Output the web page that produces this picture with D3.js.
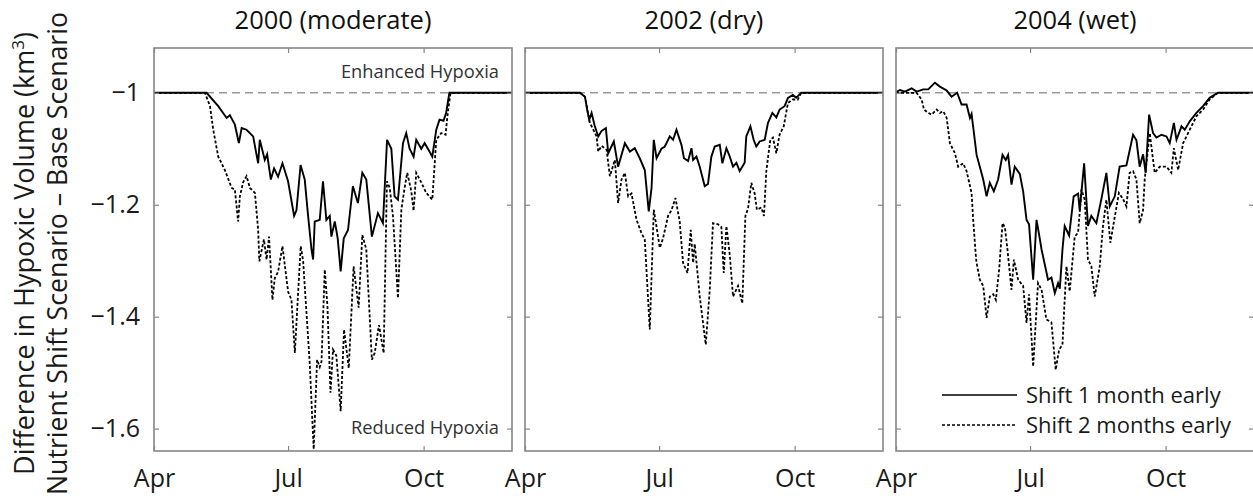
<!DOCTYPE html>
<html>
<head>
<meta charset="utf-8">
<script src="https://cdn.jsdelivr.net/npm/d3@7/dist/d3.min.js"></script>
<style>
  body { margin: 0; background: #fff; }
  text { font-family: "Open Sans", sans-serif; }
</style>
</head>
<body>
<script>
// Data: [days after 1 April, difference in hypoxic volume]
var y2000_1mo = [[0,-1],[35.7,-1],[43.6,-1.024],[49.3,-1.045],[51.5,-1.040],[54.9,-1.057],[57.6,-1.09],[59.5,-1.063],[62.8,-1.066],[67.3,-1.078],[70.7,-1.126],[71.8,-1.084],[75.2,-1.12],[76.8,-1.11],[79.3,-1.155],[81.5,-1.135],[84.2,-1.15],[87.2,-1.126],[91.0,-1.158],[95.1,-1.22],[96.7,-1.21],[99.5,-1.129],[102.3,-1.155],[104.6,-1.22],[106.9,-1.28],[108.0,-1.298],[109.1,-1.23],[112.5,-1.227],[114.7,-1.158],[117.0,-1.227],[119.3,-1.22],[120.4,-1.257],[122.7,-1.23],[124.7,-1.26],[126.7,-1.319],[128.8,-1.26],[131.7,-1.245],[135.0,-1.167],[138.4,-1.197],[141.4,-1.143],[144.1,-1.155],[147.9,-1.257],[152.0,-1.215],[155.4,-1.233],[158.2,-1.084],[161.1,-1.10],[163.3,-1.185],[165.6,-1.191],[169.0,-1.09],[171.2,-1.072],[173.5,-1.10],[176.2,-1.114],[178.0,-1.084],[181.4,-1.10],[183.7,-1.09],[185.9,-1.10],[188.9,-1.114],[191.6,-1.066],[193.8,-1.048],[196.5,-1.05],[198.3,-1.036],[200.5,-1],[243,-1]];
var y2000_2mo = [[0,-1],[34.6,-1],[38.0,-1.024],[40.2,-1.066],[43.6,-1.114],[45.9,-1.126],[48.1,-1.138],[52.7,-1.17],[54.9,-1.173],[57.1,-1.23],[58.3,-1.185],[60.5,-1.16],[62.8,-1.149],[65.1,-1.17],[68.5,-1.179],[70.7,-1.245],[71.5,-1.301],[74.6,-1.262],[76.4,-1.298],[78.1,-1.257],[80.4,-1.37],[82.0,-1.331],[84.2,-1.32],[87.2,-1.274],[91.0,-1.355],[93.3,-1.37],[95.6,-1.465],[97.8,-1.358],[99.6,-1.274],[101.2,-1.30],[103.5,-1.393],[105.7,-1.483],[108.4,-1.637],[110.7,-1.477],[112.5,-1.49],[113.7,-1.48],[115.9,-1.316],[117.7,-1.38],[119.8,-1.536],[121.5,-1.459],[123.8,-1.47],[126.7,-1.569],[129.0,-1.423],[132.2,-1.492],[135.5,-1.31],[138.9,-1.384],[141.4,-1.254],[144.1,-1.28],[147.9,-1.477],[149.8,-1.465],[152.7,-1.415],[155.9,-1.465],[158.1,-1.158],[160.0,-1.17],[162.2,-1.22],[165.6,-1.367],[167.9,-1.209],[170.1,-1.17],[171.9,-1.143],[174.6,-1.175],[176.2,-1.211],[178.0,-1.143],[181.4,-1.16],[184.8,-1.179],[188.9,-1.191],[191.6,-1.084],[195.0,-1.072],[197.9,-1.075],[199.4,-1.036],[201.3,-1],[243,-1]];

var y2002_1mo = [[0,-1],[37.3,-1],[40.7,-1.007],[42.2,-1.03],[43.6,-1.048],[45.2,-1.036],[47.4,-1.06],[49.7,-1.078],[52.0,-1.068],[54.9,-1.063],[56.5,-1.108],[60.3,-1.087],[63.2,-1.132],[67.8,-1.09],[71.2,-1.105],[74.5,-1.099],[77.9,-1.117],[81.3,-1.138],[84.0,-1.212],[85.9,-1.17],[87.4,-1.084],[89.3,-1.117],[92.6,-1.10],[94.9,-1.096],[98.3,-1.078],[100.5,-1.084],[102.8,-1.066],[106.2,-1.093],[107.9,-1.117],[110.7,-1.122],[113.0,-1.099],[114.1,-1.12],[116.4,-1.114],[118.6,-1.132],[122.0,-1.167],[124.2,-1.163],[126.5,-1.114],[128.8,-1.096],[132.2,-1.093],[134.0,-1.126],[136.7,-1.099],[139.0,-1.114],[141.2,-1.132],[143.5,-1.125],[145.7,-1.14],[149.1,-1.125],[150.2,-1.078],[153.0,-1.06],[155.2,-1.084],[157.0,-1.096],[159.3,-1.087],[162.7,-1.084],[164.9,-1.054],[167.9,-1.036],[170.6,-1.044],[172.8,-1.03],[176.2,-1.024],[178.5,-1.009],[181.8,-1.004],[184.1,-1.009],[187.5,-1],[243,-1]];
var y2002_2mo = [[0,-1],[37.3,-1],[40.7,-1.007],[42.7,-1.036],[44.1,-1.054],[48.6,-1.078],[49.7,-1.105],[52.0,-1.095],[55.4,-1.102],[57.6,-1.149],[61.0,-1.12],[63.2,-1.197],[65.5,-1.155],[67.8,-1.143],[70.0,-1.185],[72.3,-1.18],[75.7,-1.227],[79.1,-1.251],[81.3,-1.262],[84.7,-1.423],[87.4,-1.209],[89.3,-1.24],[91.5,-1.277],[93.7,-1.26],[97.1,-1.22],[99.4,-1.21],[102.1,-1.188],[105.0,-1.23],[107.3,-1.304],[110.3,-1.322],[112.5,-1.245],[114.1,-1.304],[115.2,-1.27],[118.6,-1.364],[122.7,-1.45],[125.4,-1.352],[127.6,-1.233],[131.0,-1.235],[133.3,-1.24],[134.9,-1.322],[136.7,-1.238],[139.0,-1.29],[141.2,-1.364],[144.6,-1.345],[147.5,-1.376],[149.6,-1.22],[151.4,-1.207],[153.6,-1.161],[155.9,-1.18],[157.4,-1.209],[160.4,-1.205],[162.2,-1.22],[163.8,-1.14],[166.5,-1.084],[168.3,-1.08],[170.6,-1.108],[172.8,-1.075],[175.6,-1.06],[178.5,-1.018],[181.8,-1.012],[185.2,-1.012],[187.5,-1],[243,-1]];

var y2004_1mo = [[0,-1],[0.5,-0.998],[2.7,-0.995],[6.1,-0.998],[10.6,-0.992],[14.0,-0.998],[18.5,-0.994],[21.9,-0.994],[26.4,-0.982],[29.8,-0.989],[34.4,-0.996],[37.7,-1.007],[41.5,-1.0],[44.5,-1.021],[47.9,-1.021],[50.2,-1.045],[51.3,-1.038],[52.9,-1.072],[54.7,-1.111],[56.9,-1.132],[59.2,-1.155],[61.5,-1.185],[63.7,-1.161],[66.4,-1.176],[69.3,-1.155],[72.3,-1.111],[74.5,-1.12],[76.1,-1.111],[78.4,-1.164],[80.6,-1.132],[84.0,-1.145],[86.3,-1.176],[88.6,-1.227],[90.3,-1.235],[93.1,-1.334],[95.4,-1.227],[96.9,-1.25],[98.8,-1.28],[103.2,-1.334],[105.5,-1.33],[107.8,-1.358],[110.0,-1.34],[111.2,-1.35],[113.0,-1.28],[114.5,-1.238],[117.5,-1.255],[120.6,-1.185],[123.6,-1.18],[124.7,-1.21],[127.7,-1.126],[130.3,-1.238],[132.6,-1.22],[136.0,-1.233],[139.4,-1.19],[142.8,-1.143],[145.1,-1.203],[148.5,-1.185],[151.8,-1.132],[156.4,-1.13],[160.9,-1.075],[163.2,-1.085],[165.4,-1.132],[167.7,-1.11],[169.5,-1.143],[171.8,-1.039],[174.5,-1.072],[176.8,-1.08],[180.2,-1.075],[183.6,-1.078],[185.8,-1.09],[188.6,-1.054],[190.4,-1.084],[193.8,-1.06],[196.0,-1.066],[199.4,-1.051],[203.9,-1.036],[208.4,-1.024],[212.9,-1.009],[218.5,-1],[243,-1]];
var y2004_2mo = [[0,-1],[14.0,-1],[17.4,-1.012],[19.0,-1.03],[21.9,-1.036],[24.2,-1.039],[27.6,-1.03],[29.8,-1.036],[32.1,-1.033],[34.4,-1.045],[36.6,-1.09],[40.0,-1.108],[42.2,-1.132],[45.6,-1.126],[47.9,-1.14],[51.3,-1.179],[52.4,-1.227],[54.2,-1.292],[54.7,-1.304],[56.9,-1.334],[59.2,-1.345],[61.5,-1.402],[63.7,-1.364],[66.0,-1.36],[67.8,-1.37],[70.0,-1.316],[72.3,-1.233],[73.9,-1.24],[75.4,-1.274],[78.4,-1.352],[80.0,-1.298],[82.9,-1.334],[86.3,-1.345],[88.6,-1.411],[90.3,-1.36],[93.1,-1.489],[96.4,-1.34],[98.8,-1.352],[102.1,-1.405],[105.5,-1.41],[108.4,-1.495],[110.7,-1.459],[113.0,-1.45],[114.1,-1.39],[115.7,-1.31],[117.9,-1.355],[121.3,-1.257],[123.6,-1.25],[125.9,-1.173],[128.1,-1.191],[130.3,-1.298],[132.6,-1.31],[134.9,-1.364],[138.3,-1.31],[140.5,-1.238],[142.8,-1.191],[145.5,-1.268],[147.3,-1.24],[151.3,-1.179],[154.1,-1.19],[156.4,-1.203],[158.6,-1.143],[160.9,-1.14],[163.2,-1.155],[165.4,-1.233],[167.7,-1.21],[168.8,-1.155],[172.2,-1.072],[175.6,-1.143],[179.0,-1.132],[183.6,-1.132],[186.9,-1.143],[188.6,-1.099],[191.5,-1.138],[194.9,-1.09],[199.4,-1.066],[203.9,-1.042],[208.4,-1.03],[212.9,-1.012],[218.5,-1],[243,-1]];

var titles = ["2000 (moderate)", "2002 (dry)", "2004 (wet)"];
var oneMonth = [y2000_1mo, y2002_1mo, y2004_1mo];
var twoMonth = [y2000_2mo, y2002_2mo, y2004_2mo];
var yTicks = [-1, -1.2, -1.4, -1.6];
var monthLabels = ["Apr", "Jul", "Oct"];
var legendLabels = ["Shift 1 month early", "Shift 2 months early"];

// Chart Params
var svgWidth = 1253;
var svgHeight = 499;
var panelLefts = [154, 525, 896];
var panelWidth = 358;
var top0 = 48, bottom0 = 451;
var height = bottom0 - top0;

var start = new Date(2001, 3, 1);
var toDate = function(day) { return new Date(start.getTime() + day * 864e5); };
var tickDates = [new Date(2001, 3, 1), new Date(2001, 6, 1), new Date(2001, 9, 1)];

var frameColor = "#868686";

var svg = d3.select("body")
  .append("svg")
  .attr("width", svgWidth)
  .attr("height", svgHeight);

svg.append("rect").attr("width", svgWidth).attr("height", svgHeight).attr("fill", "#fff");

var xScale = d3.scaleTime()
  .domain([start, toDate(243)])
  .range([0, panelWidth]);

var yScale = d3.scaleLinear()
  .domain([-1.64, -0.92])
  .range([height, 0]);

var line = d3.line()
  .x(d => xScale(toDate(d[0])))
  .y(d => yScale(d[1]));

titles.forEach(function(title, i) {
  var g = svg.append("g")
    .attr("transform", `translate(${panelLefts[i]}, ${top0})`);

  g.append("clipPath").attr("id", "clip" + i)
    .append("rect").attr("width", panelWidth).attr("height", height);

  // reference line at -1
  g.append("line")
    .attr("x1", 0).attr("x2", panelWidth)
    .attr("y1", yScale(-1)).attr("y2", yScale(-1))
    .attr("stroke", "#999")
    .attr("stroke-width", 1.5)
    .attr("stroke-dasharray", "8,5");

  g.append("path")
    .attr("d", line(twoMonth[i]))
    .attr("clip-path", `url(#clip${i})`)
    .attr("fill", "none")
    .attr("stroke", "#000")
    .attr("stroke-width", 1.8)
    .attr("stroke-dasharray", "3,2");

  g.append("path")
    .attr("d", line(oneMonth[i]))
    .attr("clip-path", `url(#clip${i})`)
    .attr("fill", "none")
    .attr("stroke", "#000")
    .attr("stroke-width", 1.9);

  // axes with inward ticks
  var bottomAxis = d3.axisBottom(xScale).tickValues(tickDates)
    .tickFormat((d, k) => monthLabels[k]).tickSizeInner(-5).tickSizeOuter(0).tickPadding(18);
  var topAxis = d3.axisTop(xScale).tickValues(tickDates)
    .tickFormat("").tickSizeInner(-5).tickSizeOuter(0);
  var leftAxis = d3.axisLeft(yScale).tickValues(yTicks)
    .tickFormat(i === 0 ? d3.format("~g") : "").tickSizeInner(-5).tickSizeOuter(0).tickPadding(14);
  var rightAxis = d3.axisRight(yScale).tickValues(yTicks)
    .tickFormat("").tickSizeInner(-5).tickSizeOuter(0);

  var axes = [
    g.append("g").attr("transform", `translate(0, ${height})`).call(bottomAxis),
    g.append("g").call(topAxis),
    g.append("g").call(leftAxis),
    g.append("g").attr("transform", `translate(${panelWidth}, 0)`).call(rightAxis)
  ];
  axes.forEach(function(a) {
    a.select(".domain").remove();
    a.selectAll("line").attr("stroke", frameColor).attr("stroke-width", 1.2);
    a.selectAll("text").attr("font-size", 25).attr("fill", "#1a1a1a")
      .style("font-family", "'Open Sans', sans-serif");
  });

  g.append("rect")
    .attr("width", panelWidth).attr("height", height)
    .attr("fill", "none")
    .attr("stroke", frameColor)
    .attr("stroke-width", 1.6);

  // panel title
  svg.append("text")
    .attr("x", panelLefts[i] + panelWidth / 2)
    .attr("y", 29)
    .attr("text-anchor", "middle")
    .attr("font-size", 25.5)
    .attr("fill", "#111")
    .text(title);
});

// annotations in first panel
svg.append("text")
  .attr("x", panelLefts[0] + panelWidth - 13).attr("y", 78)
  .attr("text-anchor", "end").attr("font-size", 18.3).attr("fill", "#333")
  .text("Enhanced Hypoxia");
svg.append("text")
  .attr("x", panelLefts[0] + panelWidth - 13).attr("y", 434)
  .attr("text-anchor", "end").attr("font-size", 18.3).attr("fill", "#333")
  .text("Reduced Hypoxia");

// legend in third panel
var legend = svg.append("g").attr("transform", `translate(${panelLefts[2]}, 0)`);
legendLabels.forEach(function(lab, k) {
  var ly = 395 + k * 30;
  legend.append("line")
    .attr("x1", 46).attr("x2", 121).attr("y1", ly).attr("y2", ly)
    .attr("stroke", "#000").attr("stroke-width", 1.6)
    .attr("stroke-dasharray", k === 0 ? null : "3,2");
  legend.append("text")
    .attr("x", 130).attr("y", ly + 8)
    .attr("font-size", 22).attr("fill", "#1a1a1a")
    .text(lab);
});

// y axis label (two lines)
var yl1 = svg.append("text")
  .attr("transform", `translate(34, ${(top0 + bottom0) / 2 + 4}) rotate(-90)`)
  .attr("text-anchor", "middle").attr("font-size", 27).attr("fill", "#1a1a1a");
yl1.append("tspan").text("Difference in Hypoxic Volume (km");
yl1.append("tspan").attr("dy", -10).attr("font-size", 17).text("3");
yl1.append("tspan").attr("dy", 10).text(")");

svg.append("text")
  .attr("transform", `translate(67, ${(top0 + bottom0) / 2 + 4}) rotate(-90)`)
  .attr("text-anchor", "middle").attr("font-size", 26.7).attr("fill", "#1a1a1a")
  .text("Nutrient Shift Scenario \u2013 Base Scenario");
</script>
</body>
</html>
